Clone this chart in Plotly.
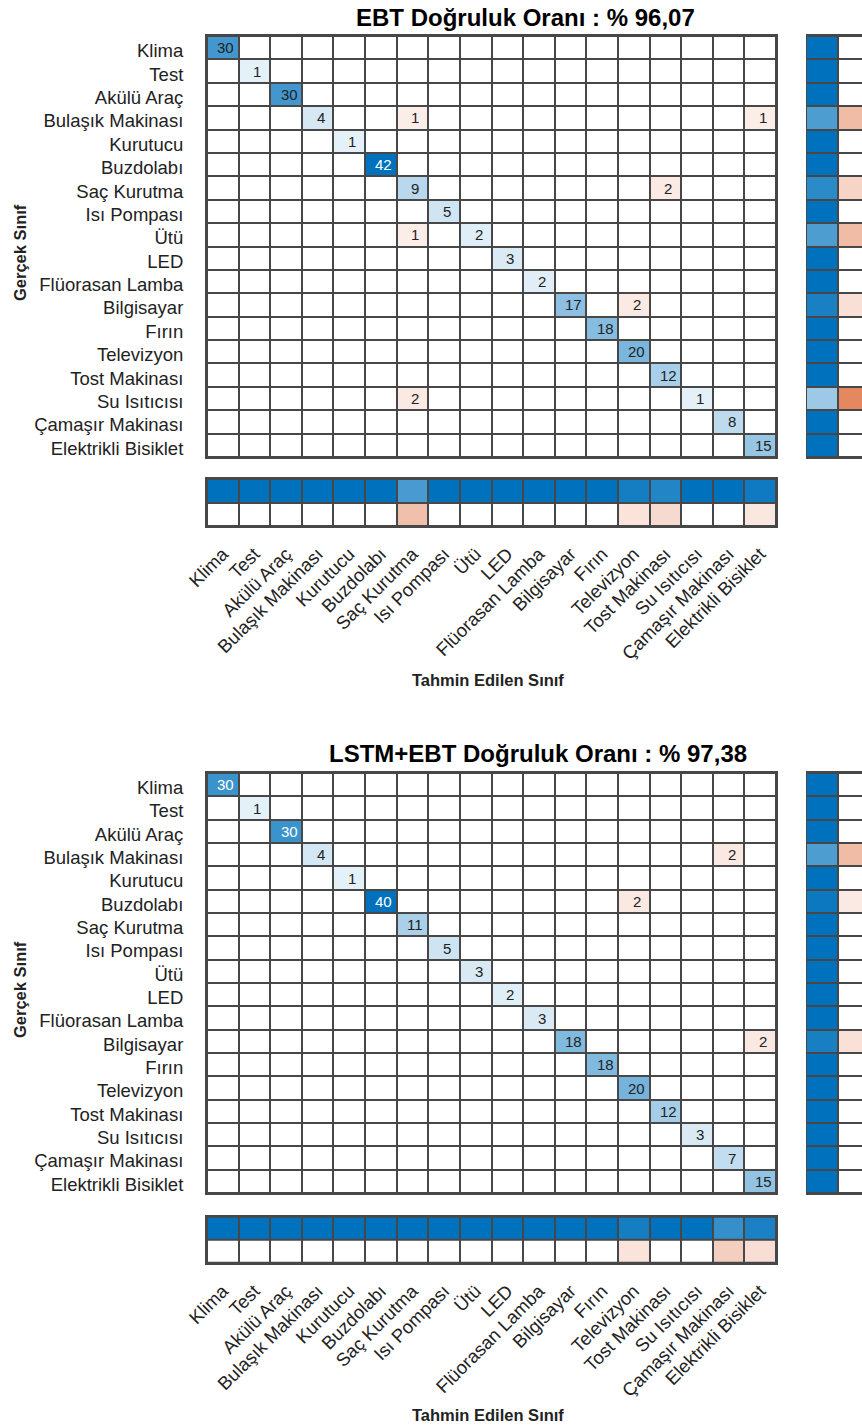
import plotly.graph_objects as go

# ---- data -----------------------------------------------------------------
classes = ["Klima", "Test", "Akülü Araç", "Bulaşık Makinası", "Kurutucu", "Buzdolabı",
           "Saç Kurutma", "Isı Pompası", "Ütü", "LED", "Flüorasan Lamba", "Bilgisayar",
           "Fırın", "Televizyon", "Tost Makinası", "Su Isıtıcısı", "Çamaşır Makinası",
           "Elektrikli Bisiklet"]

# correctly classified counts (diagonal)
ebt_correct = [30, 1, 30, 4, 1, 42, 9, 5, 2, 3, 2, 17, 18, 20, 12, 1, 8, 15]
lstm_ebt_correct = [30, 1, 30, 4, 1, 40, 11, 5, 3, 2, 3, 18, 18, 20, 12, 3, 7, 15]

# misclassifications: (true class, predicted class, count)
ebt_errors = [
    ("Bulaşık Makinası", "Saç Kurutma", 1),
    ("Bulaşık Makinası", "Elektrikli Bisiklet", 1),
    ("Saç Kurutma", "Tost Makinası", 2),
    ("Ütü", "Saç Kurutma", 1),
    ("Bilgisayar", "Televizyon", 2),
    ("Su Isıtıcısı", "Saç Kurutma", 2),
]
lstm_ebt_errors = [
    ("Bulaşık Makinası", "Çamaşır Makinası", 2),
    ("Buzdolabı", "Televizyon", 2),
    ("Bilgisayar", "Elektrikli Bisiklet", 2),
]

titles = ["EBT Doğruluk Oranı : % 96,07", "LSTM+EBT Doğruluk Oranı : % 97,38"]
x_title = "Tahmin Edilen Sınıf"
y_title = "Gerçek Sınıf"

# ---- styling ---------------------------------------------------------------
W, H = 862, 1427
FONT = "Liberation Sans, Arial, sans-serif"
BLUE = (0, 114, 189)
ORANGE = (217, 83, 25)
FLOOR = 0.08
LINE = "#474747"
TEXT = "#222222"


def tint(rgb, t):
    r, g, b = (round(255 - t * (255 - c)) for c in rgb)
    return f"rgb({r},{g},{b})"


scale = [[0.0, tint(ORANGE, 1)], [0.5 - 1e-4, tint(ORANGE, FLOOR)], [0.5, "white"],
         [0.5 + 1e-4, tint(BLUE, FLOOR)], [1.0, tint(BLUE, 1)]]


def brightness(rgb, t):
    r, g, b = (255 - t * (255 - c) for c in rgb)
    return (r * 299 + g * 587 + b * 114) / 1000


def hx(a, b):
    return [a / W, min(b / W, 1.0)]


def vy(top, bottom):
    return [1 - bottom / H, 1 - top / H]


n = len(classes)
idx = {c: i for i, c in enumerate(classes)}

layouts = [
    dict(grid_top=36, grid_bottom=457, sum_top=479, sum_bottom=526,
         title_x=525, title_y=17, ylab_y=253, xlab_y=680),
    dict(grid_top=773, grid_bottom=1193, sum_top=1216.7, sum_bottom=1263,
         title_x=538, title_y=754, ylab_y=990, xlab_y=1415),
]
series = [(ebt_correct, ebt_errors), (lstm_ebt_correct, lstm_ebt_errors)]

fig = go.Figure()
annotations = []
axes = {}

for k, ((diag, errors), lay) in enumerate(zip(series, layouts)):
    base = 3 * k
    a_main, a_row, a_col = base + 1, base + 2, base + 3

    # confusion matrix
    mat = [[0] * n for _ in range(n)]
    for i, v in enumerate(diag):
        mat[i][i] = v
    for t, p, v in errors:
        mat[idx[t]][idx[p]] = v
    vmax = max(max(r) for r in mat)
    signed = [[(mat[i][j] if i == j else -mat[i][j]) for j in range(n)] for i in range(n)]

    # row summary (recall) and column summary (precision) in percent
    row_tot = [sum(r) for r in mat]
    col_tot = [sum(mat[i][j] for i in range(n)) for j in range(n)]
    recall = [100 * mat[i][i] / row_tot[i] for i in range(n)]
    precision = [100 * mat[j][j] / col_tot[j] for j in range(n)]

    def ref(a):
        return ("x" if a == 1 else f"x{a}"), ("y" if a == 1 else f"y{a}")

    xm, ym = ref(a_main)
    xr, yr = ref(a_row)
    xc, yc = ref(a_col)

    fig.add_trace(go.Heatmap(
        z=signed, x=classes, y=classes, colorscale=scale, zmin=-vmax, zmax=vmax,
        showscale=False, xgap=2, ygap=2, xaxis=xm, yaxis=ym, hoverinfo="skip"))

    fig.add_trace(go.Heatmap(
        z=[[r, -(100 - r)] for r in recall], x=[0, 1], y=classes, colorscale=scale,
        zmin=-100, zmax=100, showscale=False, xgap=2, ygap=2, xaxis=xr, yaxis=yr,
        hoverinfo="skip"))

    fig.add_trace(go.Heatmap(
        z=[precision, [-(100 - p) for p in precision]], x=classes, y=[0, 1],
        colorscale=scale, zmin=-100, zmax=100, showscale=False, xgap=2, ygap=2,
        xaxis=xc, yaxis=yc, hoverinfo="skip"))

    # cell counts
    for i in range(n):
        for j in range(n):
            v = mat[i][j]
            if v == 0:
                continue
            t = FLOOR + (1 - FLOOR) * v / vmax
            col = "white" if brightness(BLUE if i == j else ORANGE, t) < 128 else TEXT
            annotations.append(dict(
                x=classes[j], y=classes[i], xref=xm, yref=ym, text=str(v),
                showarrow=False, xshift=3, yshift=0,
                font=dict(family=FONT, size=15, color=col)))

    gx = hx(207, 776)
    gy = vy(lay["grid_top"], lay["grid_bottom"])
    common = dict(showgrid=False, zeroline=False, ticks="", fixedrange=True,
                  automargin=False)
    frame = dict(showline=True, mirror=True, linecolor=LINE, linewidth=2)

    def key(prefix, a):
        return prefix + ("" if a == 1 else str(a))

    axes[key("xaxis", a_main)] = dict(domain=gx, showticklabels=False, anchor=ym,
                                      **common, **frame)
    axes[key("yaxis", a_main)] = dict(domain=gy, anchor=xm, autorange="reversed",
                                      ticklabelstandoff=18, ticklabelshift=-3,
                                      tickfont=dict(family=FONT, size=18.5, color=TEXT),
                                      **common, **frame)
    axes[key("xaxis", a_row)] = dict(domain=hx(806, 862), range=[-0.5, 1.25],
                                     showticklabels=False, anchor=yr, **common,
                                     showline=True, mirror=True, linecolor=LINE,
                                     linewidth=2)
    axes[key("yaxis", a_row)] = dict(domain=gy, anchor=xr, autorange="reversed",
                                     showticklabels=False, **common)
    axes[key("xaxis", a_col)] = dict(domain=gx, anchor=yc, tickangle=-45,
                                     ticklabelstandoff=8,
                                     tickfont=dict(family=FONT, size=18.5, color=TEXT),
                                     **common, **frame)
    axes[key("yaxis", a_col)] = dict(domain=vy(lay["sum_top"], lay["sum_bottom"]),
                                     anchor=xc, autorange="reversed",
                                     showticklabels=False, **common, **frame)

    annotations += [
        dict(text=f"<b>{titles[k]}</b>", x=lay["title_x"] / W, y=1 - lay["title_y"] / H,
             xref="paper", yref="paper", xanchor="center", yanchor="middle",
             showarrow=False, font=dict(family=FONT, size=24, color="black")),
        dict(text=f"<b>{y_title}</b>", x=20 / W, y=1 - lay["ylab_y"] / H,
             xref="paper", yref="paper", xanchor="center", yanchor="middle",
             textangle=-90, showarrow=False,
             font=dict(family=FONT, size=16.5, color=TEXT)),
        dict(text=f"<b>{x_title}</b>", x=488 / W, y=1 - lay["xlab_y"] / H,
             xref="paper", yref="paper", xanchor="center", yanchor="middle",
             showarrow=False, font=dict(family=FONT, size=16.5, color=TEXT)),
    ]

fig.update_layout(
    width=W, height=H, margin=dict(l=0, r=0, t=0, b=0, autoexpand=False),
    paper_bgcolor="white", plot_bgcolor=LINE,
    annotations=annotations, showlegend=False, **axes)

fig.write_html("out.html")
